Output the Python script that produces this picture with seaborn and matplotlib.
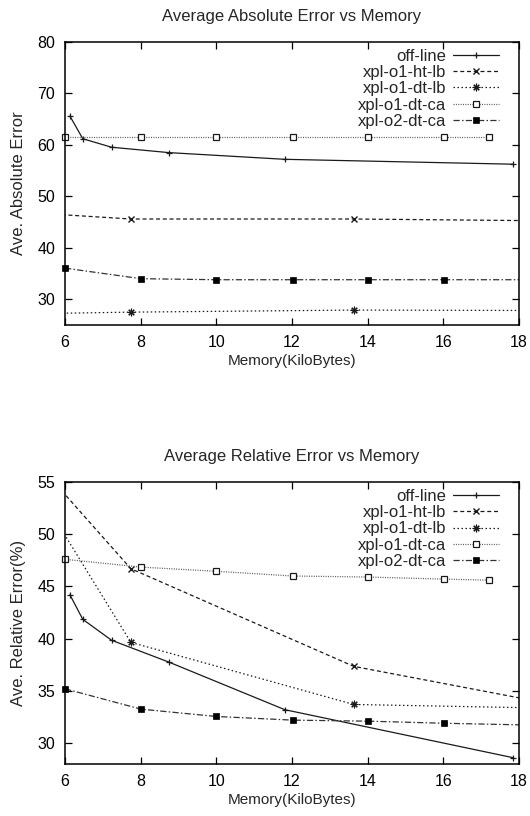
import matplotlib
matplotlib.use("Agg")
import matplotlib.pyplot as plt
import matplotlib.patches as mpatches
import seaborn as sns

# ---- data ----
x_off = [6.13, 6.47, 7.23, 8.75, 11.81, 17.85]
abs_off = [65.6, 61.2, 59.55, 58.5, 57.2, 56.25]
rel_off = [44.2, 41.85, 39.85, 37.75, 33.2, 28.6]

x_lb = [5.2, 7.74, 13.63, 19.5]
abs_ht = [46.77, 45.6, 45.6, 45.2]
rel_ht = [57.07, 46.7, 37.35, 33.3]
abs_dt = [27.2, 27.5, 27.9, 27.8]
rel_dt = [54.6, 39.65, 33.7, 33.3]

x_ca1 = [6.0, 8.01, 10.0, 12.02, 14.02, 16.03, 17.2]
abs_ca1 = [61.5, 61.5, 61.5, 61.5, 61.5, 61.5, 61.5]
rel_ca1 = [47.6, 46.85, 46.45, 46.0, 45.9, 45.7, 45.6]

x_ca2 = [6.0, 8.01, 10.0, 12.02, 14.02, 16.03, 20.0]
abs_ca2 = [36.05, 34.0, 33.8, 33.8, 33.8, 33.8, 33.8]
rel_ca2 = [35.2, 33.25, 32.55, 32.2, 32.1, 31.9, 31.6]

labels = ["off-line", "xpl-o1-ht-lb", "xpl-o1-dt-lb", "xpl-o1-dt-ca", "xpl-o2-dt-ca"]
titles = ["Average Absolute Error vs Memory", "Average Relative Error vs Memory"]
ylabels = ["Ave. Absolute Error", "Ave. Relative Error(%)"]
xlabel = "Memory(KiloBytes)"
xticks = [6, 8, 10, 12, 14, 16, 18]
yticks_abs = [30, 40, 50, 60, 70, 80]
yticks_rel = [30, 35, 40, 45, 50, 55]

sns.set_theme(style="ticks")
plt.rcParams['font.family'] = ['Liberation Sans', 'DejaVu Sans']

fig = plt.figure(figsize=(5.3, 8.16), dpi=100)
ax1 = fig.add_axes([65/530, 1-325/816, 454/530, 283/816])
ax2 = fig.add_axes([65/530, 1-764/816, 454/530, 282/816])

K = '#1a1a1a'
styles = [
    dict(linestyle='-', marker='+', markersize=5, markeredgewidth=0.9, color=K,
         markeredgecolor=K),
    dict(linestyle=(0, (3.2, 2.2)), marker='x', markersize=4, markeredgewidth=1.0, color=K,
         markeredgecolor=K),
    dict(linestyle=(0, (1.2, 2.0)), marker=(8, 2, 0), markersize=5.5, markeredgewidth=0.8, color=K,
         markeredgecolor=K),
    dict(linestyle=(0, (0.8, 1.1)), marker='s', markersize=4.5, markeredgewidth=0.9,
         markerfacecolor='white', color='#555555', markeredgecolor=K),
    dict(linestyle=(0, (5, 1.8, 1.2, 1.8)), marker='s', markersize=4.5, markeredgewidth=0.5,
         color='#333333', markerfacecolor='black', markeredgecolor='black'),
]

def draw(ax, series, ylim, yticks, title, ylabel):
    lines = []
    for (xs, ys), lab, st in zip(series, labels, styles):
        n_before = len(ax.lines)
        sns.lineplot(x=xs, y=ys, ax=ax, label=lab, linewidth=0.9, sort=False,
                     estimator=None, **st)
        lines.append(ax.lines[n_before])
    lines[0].set_clip_on(False)
    lines[3].set_clip_on(False)
    rect = mpatches.Rectangle((-0.03, -0.03), 1.03, 1.06, transform=ax.transAxes,
                              facecolor='none', edgecolor='none')
    lines[4].set_clip_path(rect)
    ax.set_xlim(6, 18)
    ax.set_ylim(*ylim)
    ax.set_xticks(xticks)
    ax.set_yticks(yticks)
    ax.tick_params(direction='in', length=5, width=0.9, top=True, right=True,
                   labelsize=11.5, colors='black', pad=7)
    for s in ax.spines.values():
        s.set_linewidth(1.1)
        s.set_color('black')
        s.set_visible(True)
    ax.set_title(title, fontsize=12, pad=15)
    ax.set_xlabel(xlabel, fontsize=11, labelpad=3)
    ax.set_ylabel(ylabel, fontsize=12, labelpad=8)
    leg = ax.legend(loc='upper right', bbox_to_anchor=(0.971, 1.0), frameon=False,
                    markerfirst=False, fontsize=12, handlelength=2.8, handletextpad=0.4,
                    labelspacing=0.08, borderaxespad=0.1, borderpad=0.3)
    return leg

draw(ax1, [(x_off, abs_off), (x_lb, abs_ht), (x_lb, abs_dt), (x_ca1, abs_ca1), (x_ca2, abs_ca2)],
     (25, 80), yticks_abs, titles[0], ylabels[0])
draw(ax2, [(x_off, rel_off), (x_lb, rel_ht), (x_lb, rel_dt), (x_ca1, rel_ca1), (x_ca2, rel_ca2)],
     (28, 55), yticks_rel, titles[1], ylabels[1])

fig.savefig("out.png", dpi=100)
